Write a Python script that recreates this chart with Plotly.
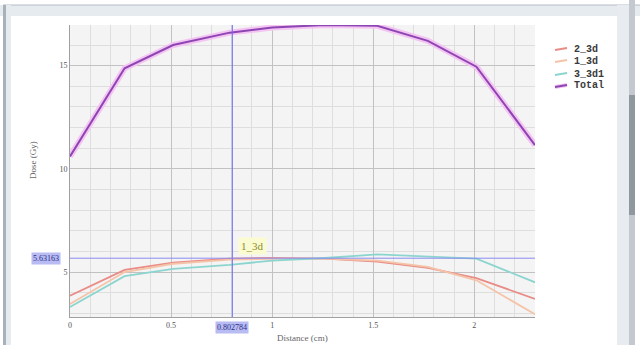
import plotly.graph_objects as go

# ---- data ----
distance = [0, 0.27, 0.51, 0.79, 1.0, 1.26, 1.52, 1.77, 2.01, 2.3]
dose_2_3d = [3.85, 5.10, 5.45, 5.65, 5.68, 5.65, 5.50, 5.20, 4.70, 3.70]
dose_1_3d = [3.45, 5.00, 5.40, 5.60, 5.65, 5.65, 5.55, 5.25, 4.60, 2.95]
dose_3_3d1 = [3.30, 4.80, 5.15, 5.35, 5.55, 5.68, 5.85, 5.75, 5.65, 4.50]
dose_total = [10.6, 14.87, 16.0, 16.6, 16.85, 16.97, 16.93, 16.2, 14.95, 11.15]
series_names = ["2_3d", "1_3d", "3_3d1", "Total"]
series_colors = ["#e98b86", "#f4c3a8", "#8cd5cf", "#8d45b3"]
x_ticks = [0, 0.5, 1, 1.5, 2]
y_ticks = [5, 10, 15]
cursor_x = 0.802784
cursor_y = 5.67
cursor_x_label = "0.802784"
cursor_y_label = "5.63163"
marker_label = "1_3d"

# plot area in pixels
L, R, T, B = 70, 535, 25, 317
W, H = 640, 345


def px(x):
    return (x - L) / (R - L)


def py(y):
    return (B - y) / (B - T)


fig = go.Figure()
for name, vals, col in zip(series_names[:3], [dose_2_3d, dose_1_3d, dose_3_3d1], series_colors[:3]):
    fig.add_trace(go.Scatter(x=distance, y=vals, mode="lines", name=name,
                             line=dict(color=col, width=1.8), showlegend=False))
# glow under total
fig.add_trace(go.Scatter(x=distance, y=dose_total, mode="lines", line=dict(color="#f4c4f2", width=6),
                         showlegend=False, hoverinfo="skip"))
fig.add_trace(go.Scatter(x=distance, y=dose_total, mode="lines", name="Total",
                         line=dict(color=series_colors[3], width=2), showlegend=False))

shapes = []
annotations = []

# cursor lines
shapes.append(dict(type="line", xref="x", yref="paper", x0=cursor_x, x1=cursor_x, y0=0, y1=1,
                   line=dict(color="#6a6af0", width=1)))
shapes.append(dict(type="line", xref="paper", yref="y", x0=0, x1=1, y0=cursor_y, y1=cursor_y,
                   line=dict(color="#8a8af0", width=1)))

# window frame
shapes += [
    dict(type="rect", xref="paper", yref="paper", x0=px(0), x1=px(640), y0=py(5), y1=py(16),
         fillcolor="#e6ebf0", line=dict(width=0), layer="below"),
    dict(type="line", xref="paper", yref="paper", x0=px(3), x1=px(640), y0=py(5), y1=py(5),
         line=dict(color="#b4bcc4", width=1)),
    dict(type="rect", xref="paper", yref="paper", x0=px(3), x1=px(6), y0=py(5), y1=py(345),
         fillcolor="#a9b1b9", line=dict(width=0)),
    dict(type="rect", xref="paper", yref="paper", x0=px(6), x1=px(11), y0=py(5), y1=py(345),
         fillcolor="#e6ebf0", line=dict(width=0)),
    dict(type="rect", xref="paper", yref="paper", x0=px(617), x1=px(629), y0=py(5), y1=py(345),
         fillcolor="#e8ecf0", line=dict(width=0)),
    dict(type="rect", xref="paper", yref="paper", x0=px(629), x1=px(635), y0=py(0), y1=py(345),
         fillcolor="#c3c9cf", line=dict(width=0)),
    dict(type="rect", xref="paper", yref="paper", x0=px(629), x1=px(635), y0=py(95), y1=py(215),
         fillcolor="#8f979f", line=dict(width=0)),
]

# custom legend
legend_rows = [49, 61, 74, 86]
for name, col, ry in zip(series_names, series_colors, legend_rows):
    if name == "Total":
        shapes.append(dict(type="line", xref="paper", yref="paper", x0=px(555), x1=px(567),
                           y0=py(ry + 1), y1=py(ry - 1), line=dict(color="#f4c4f2", width=4)))
    shapes.append(dict(type="line", xref="paper", yref="paper", x0=px(555), x1=px(567),
                       y0=py(ry + 1), y1=py(ry - 1), line=dict(color=col, width=1.8)))
    annotations.append(dict(xref="paper", yref="paper", x=px(572), y=py(ry), text="<b>" + name + "</b>",
                            showarrow=False, xanchor="left", yanchor="middle",
                            font=dict(family="Liberation Mono", size=10, color="#3a3a3a")))

# axis titles
annotations.append(dict(xref="paper", yref="paper", x=px(302), y=py(338), text="Distance (cm)",
                        showarrow=False, xanchor="center", yanchor="middle",
                        font=dict(family="Liberation Serif", size=9, color="#666666")))
annotations.append(dict(xref="paper", yref="paper", x=px(33), y=py(160), text="Dose (Gy)",
                        showarrow=False, textangle=-90, xanchor="center", yanchor="middle",
                        font=dict(family="Liberation Serif", size=9, color="#666666")))

# cursor labels
annotations.append(dict(xref="x", yref="paper", x=cursor_x, y=py(327.5), text=cursor_x_label,
                        showarrow=False, xanchor="center", yanchor="middle", bgcolor="#b8bcf2",
                        borderpad=1, font=dict(family="Liberation Serif", size=8, color="#2d2d8a")))
annotations.append(dict(xref="paper", yref="y", x=px(46), y=cursor_y, text=cursor_y_label,
                        showarrow=False, xanchor="center", yanchor="middle", bgcolor="#b8bcf2",
                        borderpad=1, font=dict(family="Liberation Serif", size=8, color="#2d2d8a")))
annotations.append(dict(xref="paper", yref="paper", x=px(252), y=py(246), text=marker_label,
                        showarrow=False, xanchor="center", yanchor="middle", bgcolor="#fbfbd2",
                        borderpad=2, font=dict(family="Liberation Serif", size=11, color="#8c8c30")))

fig.update_layout(
    width=W, height=H,
    margin=dict(l=L, r=W - R, t=T, b=H - B, pad=0),
    paper_bgcolor="white", plot_bgcolor="#f4f4f4",
    showlegend=False,
    shapes=shapes, annotations=annotations,
    font=dict(family="Liberation Serif", size=8, color="#555555"),
)
fig.update_xaxes(range=[0, 2.3], tickvals=x_ticks, ticktext=[str(v) for v in x_ticks],
                 showgrid=True, gridcolor="#c2c2c2", gridwidth=1,
                 minor=dict(dtick=0.1, showgrid=True, gridcolor="#dedede", gridwidth=1),
                 zeroline=False, showline=True, linecolor="#a0a0a0", linewidth=1,
                 ticks="", tickfont=dict(size=8, color="#555555"))
fig.update_yaxes(range=[2.82, 16.97], tickvals=y_ticks, ticktext=[str(v) for v in y_ticks],
                 showgrid=True, gridcolor="#c2c2c2", gridwidth=1,
                 minor=dict(dtick=1, showgrid=True, gridcolor="#dedede", gridwidth=1),
                 zeroline=False, showline=True, linecolor="#a0a0a0", linewidth=1,
                 ticks="", tickfont=dict(size=8, color="#555555"))

fig.write_html("out.html")
